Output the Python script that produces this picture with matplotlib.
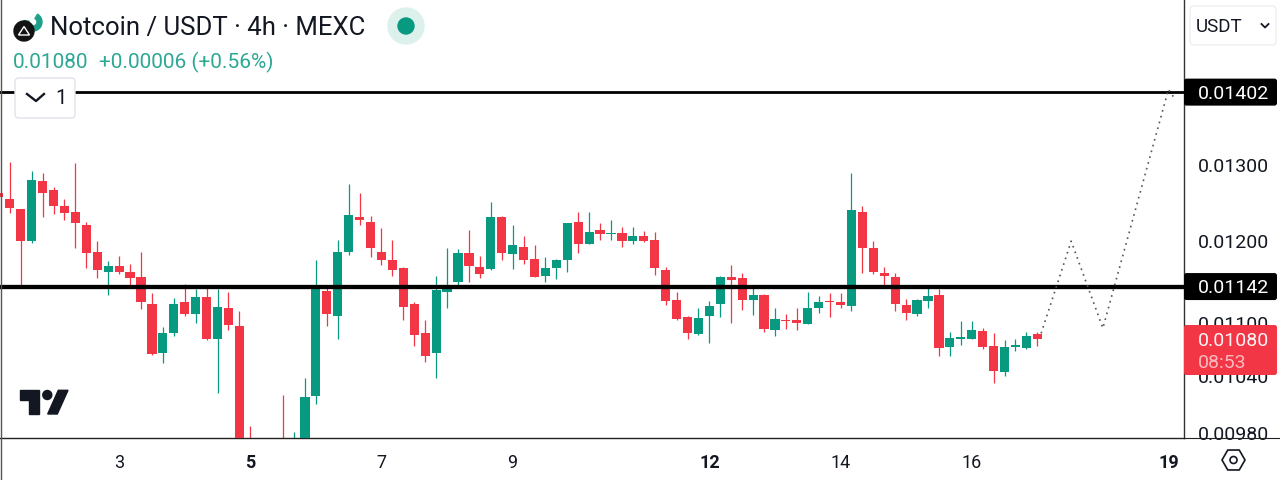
import numpy as np
import matplotlib
matplotlib.use('Agg')
import matplotlib.pyplot as plt
from matplotlib.patches import Circle, FancyBboxPatch, Polygon, Rectangle, RegularPolygon, Wedge

plt.rcParams['font.family'] = ['Roboto', 'DejaVu Sans']

# prices in 1e-5 USDT, one value per 4h bar
opens = [1261, 1253, 1239, 1198, 1277, 1264, 1243, 1235, 1218, 1185, 1160, 1167,
         1160, 1154, 1121, 1065, 1087, 1123, 1110, 1130, 1081, 1117, 1096, 955,
         940, 930, 965, 950, 960, 1017, 1137, 1107, 1184, 1229, 1223, 1185,
         1175, 1164, 1121, 1087, 1065, 1136, 1147, 1183, 1166, 1163, 1229, 1182,
         1191, 1176, 1155, 1164, 1175, 1222, 1195, 1212, 1207, 1208, 1198, 1204,
         1199, 1162, 1126, 1106, 1086, 1107, 1121, 1154, 1152, 1126, 1132, 1091,
         1103, 1102, 1098, 1117, 1125, 1123, 1119, 1235, 1190, 1158, 1154, 1120,
         1110, 1125, 1132, 1071, 1081, 1081, 1090, 1073, 1044, 1071, 1070, 1086]
highs = [1262, 1303, 1240, 1290, 1288, 1269, 1252, 1301, 1222, 1198, 1173, 1180,
         1170, 1185, 1134, 1094, 1128, 1145, 1139, 1142, 1139, 1136, 1113, 986,
         960, 950, 1019, 980, 1037, 1175, 1140, 1200, 1272, 1261, 1230, 1215,
         1200, 1166, 1124, 1102, 1155, 1190, 1188, 1212, 1180, 1249, 1230, 1219,
         1204, 1193, 1178, 1176, 1221, 1235, 1235, 1221, 1225, 1216, 1216, 1211,
         1210, 1166, 1136, 1107, 1117, 1125, 1155, 1168, 1158, 1140, 1133, 1117,
         1110, 1117, 1136, 1131, 1134, 1134, 1288, 1243, 1198, 1166, 1159, 1127,
         1127, 1142, 1139, 1089, 1101, 1101, 1093, 1087, 1079, 1081, 1088, 1088]
lows = [1254, 1234, 1141, 1196, 1229, 1233, 1225, 1190, 1164, 1152, 1132, 1157,
        1144, 1115, 1062, 1054, 1084, 1107, 1099, 1079, 1021, 1091, 945, 935,
        925, 920, 950, 945, 950, 1009, 1095, 1081, 1181, 1218, 1178, 1168,
        1155, 1103, 1073, 1055, 1037, 1117, 1144, 1148, 1152, 1162, 1175, 1163,
        1169, 1153, 1148, 1151, 1160, 1183, 1194, 1200, 1200, 1191, 1194, 1197,
        1156, 1120, 1103, 1080, 1085, 1076, 1106, 1099, 1114, 1108, 1089, 1084,
        1092, 1091, 1098, 1111, 1106, 1117, 1113, 1159, 1157, 1142, 1113, 1103,
        1107, 1117, 1061, 1061, 1074, 1080, 1069, 1032, 1039, 1067, 1069, 1073]
closes = [1255, 1241, 1198, 1278, 1261, 1243, 1234, 1221, 1183, 1162, 1167, 1160,
          1152, 1123, 1064, 1087, 1121, 1109, 1130, 1081, 1118, 1097, 950, 940,
          930, 935, 955, 965, 1016, 1139, 1109, 1185, 1231, 1225, 1190, 1175,
          1162, 1118, 1085, 1061, 1138, 1144, 1183, 1167, 1157, 1229, 1183, 1193,
          1175, 1154, 1165, 1174, 1221, 1195, 1210, 1207, 1209, 1198, 1204, 1198,
          1165, 1125, 1104, 1087, 1105, 1119, 1154, 1150, 1126, 1132, 1092, 1104,
          1101, 1099, 1116, 1124, 1123, 1120, 1238, 1190, 1160, 1155, 1121, 1111,
          1126, 1131, 1070, 1082, 1083, 1091, 1072, 1045, 1072, 1074, 1084, 1080]

level_prices = [1402, 1142]
level_widths = [2.0, 3.1]

# hand drawn path after the last bar
path_bars = [95.35, 98.1, 101, 107, 107.5]
path_prices = [1087, 1198, 1093, 1406, 1394]

y_ticks = [1300, 1200, 1100, 1040, 980]
x_ticks = [11, 23, 35, 47, 65, 77, 89, 107]
x_labels = ['3', '5', '7', '9', '12', '14', '16', '19']
x_bold = ['5', '12', '19']

GREEN = '#089981'
RED = '#F23645'
INK = '#131722'

fig = plt.figure(figsize=(12.8, 4.81), dpi=100)
ax = fig.add_axes([0, 42.2 / 481, 1184 / 1280, 438.8 / 481])
ax.set_yscale('log')

o = np.array(opens) * 1e-5
h = np.array(highs) * 1e-5
l = np.array(lows) * 1e-5
c = np.array(closes) * 1e-5
bars = np.arange(len(o))
colors = [GREEN if cl >= op else RED for op, cl in zip(o, c)]

ax.vlines(bars, l, h, colors=colors, lw=0.9, zorder=2)
ax.bar(bars, np.abs(c - o), bottom=np.minimum(o, c), width=0.84, color=colors, zorder=3)

for p, w in zip(level_prices, level_widths):
    ax.axhline(p * 1e-5, color='black', lw=w, zorder=4)

ax.plot(path_bars, np.array(path_prices) * 1e-5, color='#555555', lw=1.2, ls=(0, (1, 2.6)), zorder=5)

ax.set_xlim(0.1, 108.42)
ax.set_ylim(973.6e-5, 1546.7e-5)

ax.yaxis.tick_right()
ax.set_yticks(np.array(y_ticks) * 1e-5)
ax.set_yticklabels(['0.%05d' % t for t in y_ticks])
ax.minorticks_off()
ax.tick_params(axis='y', length=0, pad=10, labelsize=14, labelcolor=INK)
ax.set_xticks(x_ticks)
ax.set_xticklabels(x_labels)
ax.tick_params(axis='x', length=0, pad=11, labelsize=13, labelcolor=INK)
for lab in ax.get_xticklabels():
    if lab.get_text() in x_bold:
        lab.set_fontweight('bold')
for s in ['top', 'left']:
    ax.spines[s].set_visible(False)
ax.spines['right'].set_color('#333333')
ax.spines['right'].set_linewidth(1)
ax.spines['bottom'].set_color('#222222')
ax.spines['bottom'].set_linewidth(1)

# overlay in pixel units for the tv interface bits
ui = fig.add_axes([0, 0, 1, 1], facecolor='none')
ui.set_xlim(0, 1280)
ui.set_ylim(481, 0)
ui.axis('off')


def py(price):
    return 481 - ax.transData.transform((1, price * 1e-5))[1]


ui.plot([1184, 1280], [438.5, 438.5], color='#222222', lw=0.8)
ui.plot([0.5, 0.5], [0, 481], color='#555555', lw=1)

ui.text(50, 28, 'Notcoin / USDT · 4h · MEXC', fontsize=18.5, color=INK, va='center')
ui.text(13, 62, '0.01080', fontsize=15, color=GREEN, va='center', alpha=0.85)
ui.text(99, 62, '+0.00006 (+0.56%)', fontsize=15, color=GREEN, va='center', alpha=0.85)

# symbol icon
ui.add_patch(Wedge((33, 23), 9, 300, 190, width=5, color='#1FA08B'))
ui.add_patch(Circle((24, 32), 10, color='#131313'))
ui.add_patch(Polygon([(24, 27.5), (29.5, 36), (18.5, 36)], closed=True, fill=False, ec='white', lw=1))
ui.add_patch(Circle((406, 27), 18, color='#DDF1EC'))
ui.add_patch(Circle((406, 27), 8, color=GREEN))

# collapse button
ui.add_patch(FancyBboxPatch((18, 82), 54, 34, boxstyle='round,pad=3,rounding_size=4', fc='white', ec='#E0E3EB', lw=1, zorder=6))
ui.plot([27, 36, 44], [95, 102, 95], color=INK, lw=1.7, zorder=7)
ui.text(61, 99, '1', fontsize=14.5, color=INK, ha='center', va='center', zorder=7)

# currency button
ui.add_patch(FancyBboxPatch((1193, 10), 80, 33, boxstyle='round,pad=3,rounding_size=4', fc='white', ec='#ECEEF2', lw=1))
ui.text(1196, 26.5, 'USDT', fontsize=13.5, color=INK, va='center')
ui.plot([1261.5, 1265, 1268.5], [25, 28.5, 25], color=INK, lw=1.3)

# price tags
for p in level_prices:
    y = py(p)
    ui.add_patch(FancyBboxPatch((1184, y - 13.5), 93, 27, boxstyle='round,pad=0,rounding_size=2.5', fc='black', ec='none'))
    ui.text(1198, y + 0.5, '0.%05d' % p, fontsize=14, color='white', va='center')

ui.add_patch(FancyBboxPatch((1184, 326), 93, 50, boxstyle='round,pad=0,rounding_size=2.5', fc=RED, ec='none'))
ui.text(1198, 341, '0.%05d' % closes[-1], fontsize=14, color='white', va='center', alpha=0.95)
ui.text(1198, 363, '08:53', fontsize=14, color='white', va='center', alpha=0.65)

# tradingview mark
ui.add_patch(Polygon([(20, 391.3), (39, 391.3), (39, 415), (29.3, 415), (29.3, 400.7), (20, 400.7)], closed=True, color=INK))
ui.add_patch(Polygon([(58.3, 391.3), (68, 391.3), (57.3, 415), (47.7, 415)], closed=True, color=INK))
ui.add_patch(Circle((47.3, 396), 4.5, color=INK))

# settings hexagon
ui.add_patch(RegularPolygon((1233.5, 461), 6, radius=11.5, orientation=np.pi / 6, fill=False, ec=INK, lw=1.2))
ui.add_patch(Circle((1233.5, 461), 3.5, fill=False, ec=INK, lw=1.2))

fig.savefig('out.png', dpi=100)
